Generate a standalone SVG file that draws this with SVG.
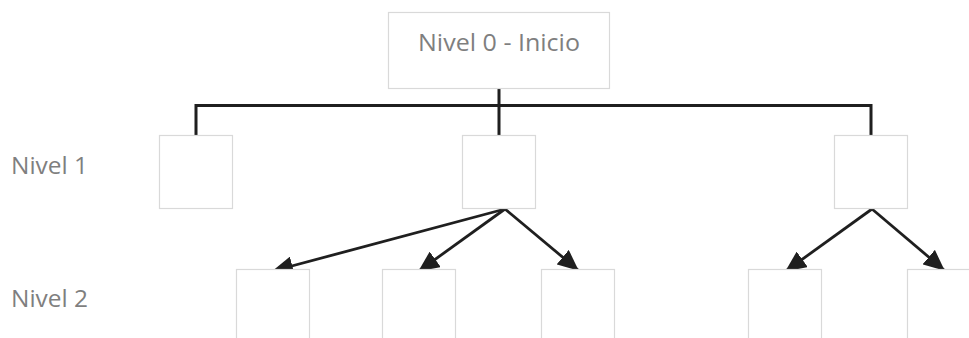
<svg xmlns="http://www.w3.org/2000/svg" width="969" height="338" viewBox="0 0 969 338">
  <style>
    .box { fill: #ffffff; stroke: #d9d9d9; stroke-width: 1.2; }
    .lbl { font-family: "Open Sans", "Liberation Sans", sans-serif; font-size: 24px; fill: #7f7f7f; }
    .tree { fill: none; stroke: #1f1f1f; stroke-width: 3; stroke-linecap: square; }
    .arr { fill: none; stroke: #1f1f1f; stroke-width: 2.8; }
  </style>
  <defs>
    <marker id="head" markerUnits="userSpaceOnUse" markerWidth="21" markerHeight="19" viewBox="0 0 21 19" refX="20" refY="9.5" orient="auto">
      <path d="M0,0 L21,9.5 L0,19 Z" fill="#1f1f1f"/>
    </marker>
  </defs>
  <rect width="969" height="338" fill="#ffffff"/>

  <!-- level labels -->
  <text class="lbl" x="11" y="174" textLength="77" lengthAdjust="spacingAndGlyphs">Nivel 1</text>
  <text class="lbl" x="11" y="307" textLength="77" lengthAdjust="spacingAndGlyphs">Nivel 2</text>

  <g id="connectors">
    <path class="tree" d="M499,89 V105.5 M196,134 V105.5 H871 V134 M499,105.5 V134"/>
    <line class="arr" x1="505" y1="209" x2="273" y2="271" marker-end="url(#head)"/>
    <line class="arr" x1="505" y1="209" x2="419" y2="271" marker-end="url(#head)"/>
    <line class="arr" x1="505" y1="209" x2="578" y2="270" marker-end="url(#head)"/>
    <line class="arr" x1="872" y1="209" x2="786" y2="271" marker-end="url(#head)"/>
    <line class="arr" x1="872" y1="209" x2="944" y2="270" marker-end="url(#head)"/>
  </g>

  <g id="root">
    <rect class="box" x="388.5" y="12.5" width="221" height="76"/>
    <text class="lbl" x="499" y="51" text-anchor="middle" textLength="162" lengthAdjust="spacingAndGlyphs">Nivel 0 - Inicio</text>
  </g>

  <g id="n1a"><rect class="box" x="159.5" y="135.5" width="73" height="73"/></g>
  <g id="n1b"><rect class="box" x="462.5" y="135.5" width="73" height="73"/></g>
  <g id="n1c"><rect class="box" x="834.5" y="135.5" width="73" height="73"/></g>

  <g id="n2a"><rect class="box" x="236.5" y="269.5" width="73" height="90"/></g>
  <g id="n2b"><rect class="box" x="382.5" y="269.5" width="73" height="90"/></g>
  <g id="n2c"><rect class="box" x="541.5" y="269.5" width="73" height="90"/></g>
  <g id="n2d"><rect class="box" x="748.5" y="269.5" width="73" height="90"/></g>
  <g id="n2e"><rect class="box" x="907.5" y="269.5" width="73" height="90"/></g>
</svg>
